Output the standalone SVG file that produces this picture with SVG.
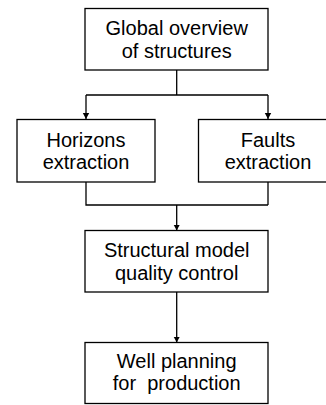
<svg xmlns="http://www.w3.org/2000/svg" width="326" height="405" viewBox="0 0 326 405">
<style>
.box{fill:#fff;stroke:#000;stroke-width:1.3}
.t{font-family:"Liberation Sans",Arial,sans-serif;font-size:20px;fill:#000;text-anchor:middle;white-space:pre}
.c{fill:none;stroke:#000;stroke-width:1.3}
</style>
<defs>
<marker id="ah" markerWidth="6" markerHeight="8" refX="6" refY="4" orient="auto" markerUnits="userSpaceOnUse">
<path d="M0,0.8 L6,4 L0,7.2 Z" fill="#000"/>
</marker>
</defs>
<rect width="326" height="405" fill="#fff"/>
<g id="connectors">
<path class="c" d="M176.7,70 V95 M86,95 H268"/>
<path class="c" d="M86,95 V119" marker-end="url(#ah)"/>
<path class="c" d="M268,95 V119" marker-end="url(#ah)"/>
<path class="c" d="M86,182 V205 H268 M268,182 V205"/>
<path class="c" d="M176.7,205 V230.5" marker-end="url(#ah)"/>
<path class="c" d="M176.7,292 V342.5" marker-end="url(#ah)"/>
</g>
<g id="global">
<rect class="box" x="85" y="8.5" width="183" height="61.5"/>
<text class="t" x="176.7" y="35">Global overview</text>
<text class="t" x="176.7" y="57.5">of structures</text>
</g>
<g id="horizons">
<rect class="box" x="17" y="119.5" width="138" height="62.5"/>
<text class="t" x="86" y="146.5">Horizons</text>
<text class="t" x="86" y="168.5">extraction</text>
</g>
<g id="faults">
<rect class="box" x="198.5" y="119.5" width="138" height="62.5"/>
<text class="t" x="268" y="146.5">Faults</text>
<text class="t" x="268" y="168.5">extraction</text>
</g>
<g id="structural">
<rect class="box" x="85" y="230.5" width="183" height="61.5"/>
<text class="t" x="176.7" y="257">Structural model</text>
<text class="t" x="176.7" y="279.5">quality control</text>
</g>
<g id="well">
<rect class="box" x="85" y="342.5" width="183" height="61"/>
<text class="t" x="176.7" y="368">Well planning</text>
<text class="t" x="176.7" y="390">for  production</text>
</g>
</svg>
